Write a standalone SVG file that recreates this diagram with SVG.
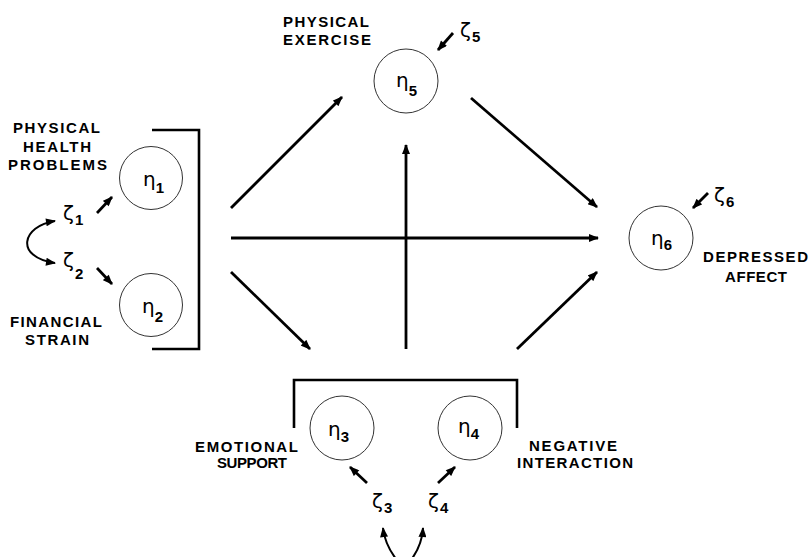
<svg xmlns="http://www.w3.org/2000/svg" width="812" height="557" viewBox="0 0 812 557">
<defs>
<marker id="ah" viewBox="0 0 10 8" refX="9" refY="4" markerWidth="11" markerHeight="8" markerUnits="userSpaceOnUse" orient="auto-start-reverse">
<path d="M0,0 L10,4 L0,8 z" fill="#000"/>
</marker>
<style>
.lbl{font-family:"Liberation Sans",Arial,sans-serif;font-weight:bold;font-size:15px;fill:#000}
.gk{font-family:"DejaVu Sans","Liberation Sans",sans-serif;font-size:20px;fill:#000}
.sub{font-family:"Liberation Sans",Arial,sans-serif;font-weight:bold;font-size:15px}
.node{fill:#fff;stroke:#333;stroke-width:1}
.conn{fill:none;stroke:#000;stroke-width:2.8;marker-end:url(#ah)}
.short{fill:none;stroke:#000;stroke-width:2.8;marker-end:url(#ah)}
.brk{fill:none;stroke:#000;stroke-width:2.6}
.curve{fill:none;stroke:#000;stroke-width:2;marker-start:url(#ah);marker-end:url(#ah)}
</style>
</defs>
<rect width="812" height="557" fill="#fff"/>

<g id="brackets">
<polyline class="brk" points="152,130 199,130 199,349 152,349"/>
<polyline class="brk" points="294,428 294,380 517,380 517,428"/>
</g>

<g id="connectors">
<line class="conn" x1="231" y1="208" x2="342" y2="97"/>
<line class="conn" x1="231" y1="238" x2="598" y2="238"/>
<line class="conn" x1="231" y1="272" x2="310" y2="349"/>
<line class="conn" x1="406" y1="349" x2="406" y2="145"/>
<line class="conn" x1="471" y1="98" x2="597" y2="207"/>
<line class="conn" x1="517" y1="349" x2="597" y2="272"/>
<line class="short" x1="97" y1="213" x2="112" y2="197"/>
<line class="short" x1="97" y1="268" x2="112" y2="284"/>
<line class="short" x1="367" y1="483" x2="350" y2="467"/>
<line class="short" x1="438" y1="483" x2="455" y2="467"/>
<line class="short" x1="453" y1="33" x2="438" y2="50"/>
<line class="short" x1="708" y1="193" x2="693" y2="208"/>
<path class="curve" d="M55,221 C22,226 14,257 55,263"/>
<path class="curve" d="M383,528 C385,545 393,557 404,568 C415,557 422,545 423,528"/>
</g>

<g id="eta1">
<circle class="node" cx="151" cy="178" r="31.5"/>
<text class="gk" x="143" y="186">η<tspan class="sub" dy="7">1</tspan></text>
<text class="lbl" x="13" y="133" textLength="87" lengthAdjust="spacing">PHYSICAL</text>
<text class="lbl" x="23" y="152" textLength="68" lengthAdjust="spacing">HEALTH</text>
<text class="lbl" x="8" y="170" textLength="99" lengthAdjust="spacing">PROBLEMS</text>
</g>

<g id="eta2">
<circle class="node" cx="151" cy="305" r="31.5"/>
<text class="gk" x="142" y="313">η<tspan class="sub" dy="9">2</tspan></text>
<text class="lbl" x="10" y="327" textLength="92" lengthAdjust="spacing">FINANCIAL</text>
<text class="lbl" x="25" y="345" textLength="64" lengthAdjust="spacing">STRAIN</text>
</g>

<g id="eta3">
<circle class="node" cx="342" cy="428" r="32"/>
<text class="gk" x="328" y="436">η<tspan class="sub" dy="6">3</tspan></text>
<text class="lbl" x="195" y="452" textLength="103" lengthAdjust="spacing">EMOTIONAL</text>
<text class="lbl" x="217" y="468" textLength="70" lengthAdjust="spacing">SUPPORT</text>
</g>

<g id="eta4">
<circle class="node" cx="470" cy="428" r="32"/>
<text class="gk" x="458" y="433">η<tspan class="sub" dy="6">4</tspan></text>
<text class="lbl" x="529" y="451" textLength="88" lengthAdjust="spacing">NEGATIVE</text>
<text class="lbl" x="517" y="468" textLength="116" lengthAdjust="spacing">INTERACTION</text>
</g>

<g id="eta5">
<circle class="node" cx="406" cy="81" r="32"/>
<text class="gk" x="396" y="87">η<tspan class="sub" dy="9">5</tspan></text>
<text class="lbl" x="283" y="27" textLength="86" lengthAdjust="spacing">PHYSICAL</text>
<text class="lbl" x="283" y="45" textLength="88" lengthAdjust="spacing">EXERCISE</text>
</g>

<g id="eta6">
<circle class="node" cx="661" cy="238" r="32"/>
<text class="gk" x="651" y="245">η<tspan class="sub" dy="5">6</tspan></text>
<text class="lbl" x="703" y="262" textLength="105" lengthAdjust="spacing">DEPRESSED</text>
<text class="lbl" x="725" y="282" textLength="62" lengthAdjust="spacing">AFFECT</text>
</g>

<g id="zetas">
<text class="gk" x="63" y="220">ζ<tspan class="sub" dx="1" dy="5">1</tspan></text>
<text class="gk" x="63" y="267">ζ<tspan class="sub" dx="1" dy="12">2</tspan></text>
<text class="gk" x="372" y="508">ζ<tspan class="sub" dx="1" dy="5">3</tspan></text>
<text class="gk" x="428" y="508">ζ<tspan class="sub" dx="1" dy="5">4</tspan></text>
<text class="gk" x="460" y="37">ζ<tspan class="sub" dx="1" dy="5">5</tspan></text>
<text class="gk" x="714" y="202">ζ<tspan class="sub" dx="1" dy="5">6</tspan></text>
</g>
</svg>
